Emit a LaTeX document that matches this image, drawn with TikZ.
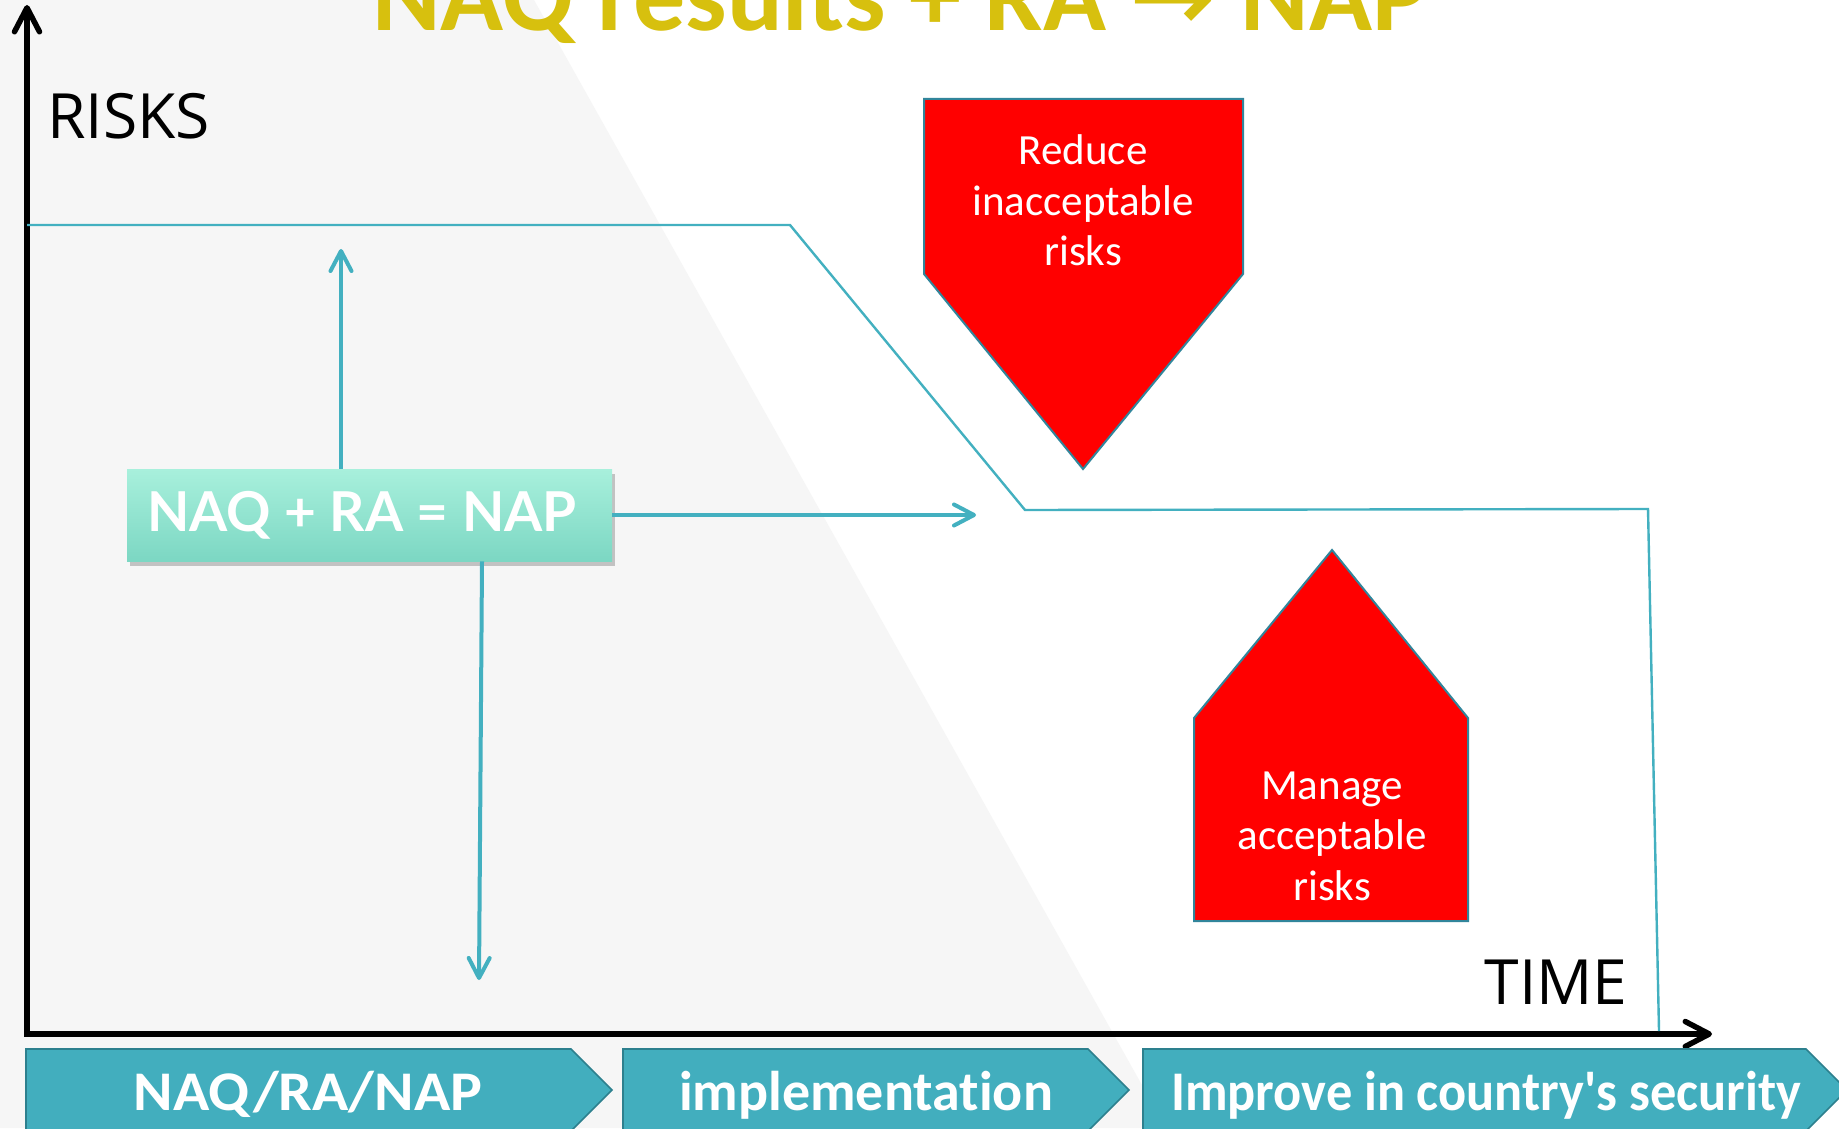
\documentclass[tikz,border=0pt]{standalone}
\usepackage{fontspec}
\setmainfont{Carlito}[Ligatures={TeXOff,NoCommon}]
\newfontfamily\latofont{Lato}[Ligatures=NoCommon]
\newfontfamily\labelfont{Open Sans}
\newfontfamily\arrowfont{DejaVu Sans}
\usetikzlibrary{arrows.meta,calc,shadows}

\definecolor{bggray}{RGB}{246,246,246}
\definecolor{titleyellow}{RGB}{215,192,14}
\definecolor{cyanline}{RGB}{67,176,192}
\definecolor{redborder}{RGB}{49,133,155}
\definecolor{phasefill}{RGB}{66,174,190}
\definecolor{phaseborder}{RGB}{45,128,142}
\definecolor{boxtop}{RGB}{168,240,220}
\definecolor{boxbottom}{RGB}{124,215,195}

\tikzset{
  axisline/.style={line width=2.75pt, black, line join=miter,
    {Straight Barb[length=12pt, width=12.5pt, round]}-{Straight Barb[length=12pt, width=12.5pt, round]}},
  riskline/.style={line width=1.2pt, cyanline, line join=miter},
  flowarrow/.style={line width=2pt, cyanline, -{Straight Barb[length=10pt, width=10.5pt, round]}},
  redshape/.style={fill=red, draw=redborder, line width=1pt, line join=miter},
  redtext/.style={text=white, align=center, inner sep=0pt,
    font=\fontsize{21.5}{25.25}\selectfont},
  phase/.style={fill=phasefill, draw=phaseborder, line width=0.8pt, line join=miter},
  phasetext/.style={text=white, anchor=base, inner sep=0pt,
    font=\bfseries\fontsize{28}{30}\selectfont},
  axislabel/.style={inner sep=0pt, font=\labelfont\fontsize{31.2}{36}\selectfont},
  naqbox/.style={rectangle, inner sep=0pt, minimum width=242.5pt, minimum height=46pt,
    top color=boxtop, bottom color=boxbottom, text=white,
    font=\latofont\bfseries\fontsize{27.5}{30}\selectfont,
    drop shadow={shadow xshift=1.5pt, shadow yshift=-2.5pt, opacity=0.3, fill=black!70}},
}

\begin{document}
\begin{tikzpicture}[x=0.5pt, y=-0.5pt]
\useasboundingbox (0,0) rectangle (1839,1128);

% background: white page with a light grey wedge on the left
\fill[white] (0,0) rectangle (1839,1128);
\fill[bggray] (0,0) -- (534,0) -- (1166,1128) -- (0,1128) -- cycle;

% heading, running off the top edge
\node[anchor=base west, inner sep=0pt, text=titleyellow,
      font=\bfseries\fontsize{52}{60}\selectfont] (title) at (372,31)
  {NAQ results + RA {\arrowfont\bfseries →} NAP};

% axes
\coordinate (ytop) at (27,5);
\coordinate (origin) at (27,1034);
\coordinate (xend) at (1712,1034);
\draw[axisline] (ytop) -- (origin) -- (xend);

\node[axislabel, anchor=base west] (risks) at (47,139) {RISKS};
\node[axislabel, anchor=base east] (time) at (1628,1004) {TIME};

% risk level over time
\coordinate (r0) at (27,225);
\coordinate (r1) at (790,225);
\coordinate (r2) at (1025,510);
\coordinate (r3) at (1648,509);
\coordinate (r4) at (1659,1031);
\draw[riskline] (r0) -- (r1) -- (r2) -- (r3) -- (r4);

% central box with its three arrows
\node[naqbox] (naq) at (369.5,515) {\hspace*{-7.5pt}NAQ + RA = NAP};
\coordinate (upend) at (341,249);
\coordinate (rightend) at (976,515);
\coordinate (downend) at (479,980);
\draw[flowarrow] (naq.north -| upend) -- (upend);
\draw[flowarrow] (naq.east) -- (rightend);
\draw[flowarrow] ($(naq.south)+(112.5,0)$) -- (downend);

% reduce: downward pentagon
\draw[redshape] (924,99) -- (1243,99) -- (1243,274) -- (1083,469) -- (924,274) -- cycle;
\node[redtext] (reduce) at (1083,200.5) {Reduce\\inacceptable\\risks};

% manage: upward pentagon
\draw[redshape] (1332,550) -- (1468,718) -- (1468,921) -- (1194,921) -- (1194,718) -- cycle;
\node[redtext] (manage) at (1332,836) {Manage\\acceptable\\risks};

% phases along the time axis
\draw[phase] (26,1049) -- (571,1049) -- (612,1090) -- (571,1131) -- (26,1131) -- cycle;
\draw[phase] (623,1049) -- (1088,1049) -- (1129,1090) -- (1088,1131) -- (623,1131) -- cycle;
\draw[phase] (1143,1049) -- (1806,1049) -- (1847,1090) -- (1806,1131) -- (1143,1131) -- cycle;
\node[phasetext] (ph1) at (308,1110) {\scalebox{1.07}[1]{NAQ/RA/NAP}};
\node[phasetext] (ph2) at (866,1110) {implementation};
\node[phasetext] (ph3) at (1486,1110) {\scalebox{0.935}[1]{Improve in country's security}};
\end{tikzpicture}
\end{document}
